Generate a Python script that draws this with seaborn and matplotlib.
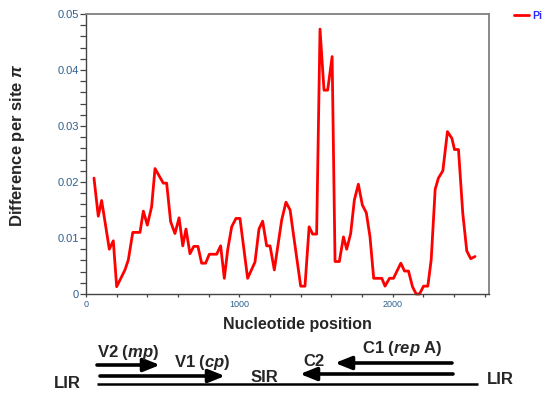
import numpy as np
import matplotlib
matplotlib.use("Agg")
import matplotlib.pyplot as plt
import seaborn as sns
import pandas as pd

# Nucleotide diversity (Pi) along the genome, sliding window
positions = [52, 80, 102, 152, 178, 200, 254, 276, 305, 352, 374, 400, 428, 450,
             504, 526, 552, 580, 607, 631, 652, 678, 703, 730, 754, 780, 804, 852,
             878, 902, 924, 950, 978, 1004, 1054, 1102, 1128, 1152, 1178, 1200,
             1228, 1276, 1304, 1331, 1352, 1400, 1428, 1455, 1478, 1504, 1526,
             1552, 1576, 1605, 1624, 1652, 1679, 1700, 1726, 1750, 1776, 1802,
             1828, 1852, 1876, 1929, 1950, 1979, 2005, 2053, 2077, 2103, 2129,
             2153, 2175, 2201, 2229, 2251, 2277, 2298, 2327, 2357, 2386, 2403,
             2429, 2457, 2483, 2509, 2537]
pi_values = [0.0207, 0.0139, 0.0167, 0.0080, 0.0095, 0.0013, 0.0043, 0.0061,
             0.0110, 0.0110, 0.0148, 0.0123, 0.0156, 0.0224, 0.0198, 0.0198,
             0.0129, 0.0108, 0.0136, 0.0086, 0.0116, 0.0072, 0.0085, 0.0085,
             0.0055, 0.0055, 0.0071, 0.0071, 0.0086, 0.0028, 0.0079, 0.0120,
             0.0135, 0.0135, 0.0028, 0.0057, 0.0116, 0.0130, 0.0086, 0.0086,
             0.0043, 0.0132, 0.0164, 0.0150, 0.0108, 0.0014, 0.0014, 0.0120,
             0.0107, 0.0107, 0.0473, 0.0364, 0.0364, 0.0424, 0.0058, 0.0058,
             0.0102, 0.0080, 0.0108, 0.0168, 0.0196, 0.0159, 0.0145, 0.0102,
             0.0028, 0.0028, 0.0014, 0.0028, 0.0028, 0.0055, 0.0041, 0.0041,
             0.0013, 0.0, 0.0, 0.0014, 0.0014, 0.0061, 0.0187, 0.0207, 0.0220,
             0.0290, 0.0278, 0.0258, 0.0258, 0.0144, 0.0077, 0.0063, 0.0067]

x_major = [0, 1000, 2000]
y_major = [0, 0.01, 0.02, 0.03, 0.04, 0.05]
y_labels = ["0", "0.01", "0.02", "0.03", "0.04", "0.05"]

sns.set_style("ticks")
plt.rcParams['font.family'] = ['Liberation Sans', 'DejaVu Sans']
plt.rcParams['mathtext.fontset'] = 'custom'
plt.rcParams['mathtext.it'] = 'Liberation Sans:italic:bold'
plt.rcParams['mathtext.rm'] = 'Liberation Sans:bold'

W, H = 550, 395
fig = plt.figure(figsize=(5.5, 3.95), dpi=100)
ax = fig.add_axes([86 / W, 1 - 294 / H, 403 / W, 280 / H])

df = pd.DataFrame({"pos": positions, "pi": pi_values})
sns.lineplot(data=df, x="pos", y="pi", ax=ax, color="#ff0000", lw=2.0,
             label="Pi", clip_on=False)

ax.set_xlim(0, 2628)
ax.set_ylim(0, 0.05)
ax.set_xticks(x_major)
ax.set_xticks(np.arange(0, 2601, 200), minor=True)
ax.set_yticks(y_major)
ax.set_yticklabels(y_labels)
ax.set_yticks(np.arange(0, 0.0501, 0.002), minor=True)

tick_col = "#2f5f8f"
ax.tick_params(axis="y", which="both", direction="out", length=4, width=0.9,
               color="#444444", labelsize=8, labelcolor=tick_col, pad=1)
ax.tick_params(axis="x", which="both", direction="out", length=2.5, width=0.9,
               color="#444444", labelsize=6.5, labelcolor=tick_col, pad=2)

for side in ["left", "bottom"]:
    ax.spines[side].set_color("#444444")
    ax.spines[side].set_linewidth(1.0)
for side in ["top", "right"]:
    ax.spines[side].set_visible(True)
    ax.spines[side].set_color("#808080")
    ax.spines[side].set_linewidth(1.3)

ax.set_xlabel("Nucleotide position", fontsize=11.5, fontweight="bold")
ax.xaxis.set_label_coords((297 - 86) / 403, (294 - 324) / 280)
ax.xaxis.label.set_va("center")
ax.set_ylabel(r"Difference per site $\pi$", fontsize=12, fontweight="bold")
ax.yaxis.set_label_coords((18 - 86) / 403, (294 - 145) / 280)
ax.yaxis.label.set_va("center")

leg = ax.legend(loc="upper left", bbox_to_anchor=(1.04, 1.045), frameon=False,
                fontsize=7.5, handlelength=1.4, handletextpad=0.35)
for t in leg.get_texts():
    t.set_color("#2a2aff")
    t.set_fontweight("bold")

# genome map below the plot, drawn in pixel coordinates
gm = fig.add_axes([0, 0, 1, 1], zorder=-1)
gm.set_xlim(0, W)
gm.set_ylim(H, 0)
gm.axis("off")


def arrow(x0, x1, y, lw=2.6):
    gm.annotate("", xy=(x1, y), xytext=(x0, y),
                arrowprops=dict(arrowstyle="-|>,head_length=0.7,head_width=0.28",
                                lw=lw, color="black",
                                mutation_scale=14, shrinkA=0, shrinkB=0))


gm.plot([97, 478], [384, 384], color="black", lw=1.8, solid_capstyle="butt")
arrow(97, 160, 365)
arrow(100, 225, 376)
arrow(452, 335, 363)
arrow(453, 300, 374)
gm.plot([348, 363], [374, 374], color="white", lw=3.0, solid_capstyle="butt")
gm.plot([348, 363], [374, 374], color="#999999", lw=0.8, solid_capstyle="butt")

lab = dict(fontsize=12, fontweight="bold", ha="center", va="center")
gm.text(128, 352, r"V2 ($mp$)", **lab)
gm.text(202, 362, r"V1 ($cp$)", **lab)
gm.text(264, 377, "SIR", **lab)
gm.text(67, 383, "LIR", **lab)
gm.text(500, 380, "LIR", **lab)
gm.text(314, 362, "C2", **lab)
gm.text(402, 349, r"C1 ($rep$ A)", **lab)

fig.savefig("out.png", dpi=100)
